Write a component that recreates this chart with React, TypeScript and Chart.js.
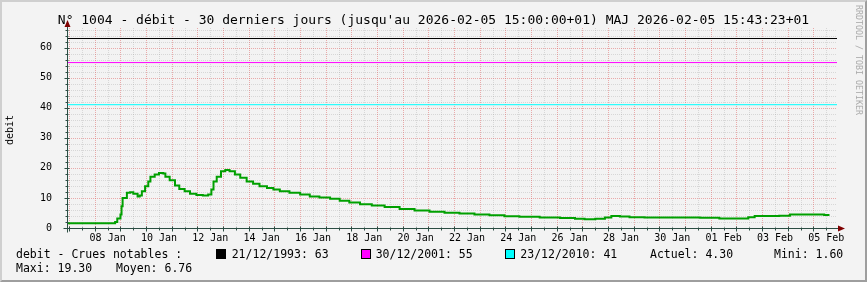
import React, { useEffect, useRef } from "react";
import { Chart, registerables } from "chart.js";

Chart.register(...registerables);

// hours since 2026-01-07 00:00 (+01)
const hours = [-2, 41, 43, 45, 48, 49, 50, 54, 57, 60, 64, 66, 68, 71, 74, 76, 80, 84, 88, 90, 94, 99, 103, 108, 113, 119, 125, 130, 133, 135, 138, 142, 146, 150, 155, 160, 166, 172, 178, 185, 191, 197, 206, 216, 225, 234, 244, 253, 262, 272, 283, 295, 309, 323, 337, 351, 365, 379, 393, 407, 421, 440, 459, 473, 482, 492, 501, 507, 515, 524, 538, 562, 590, 608, 627, 635, 641, 664, 674, 704, 706, 711];
const flow = [1.6, 1.6, 2.0, 3.2, 4.5, 7.2, 10.0, 11.7, 11.9, 11.4, 10.5, 10.8, 12.2, 13.9, 15.5, 17.0, 17.8, 18.3, 18.1, 17.0, 15.9, 14.1, 13.0, 12.2, 11.4, 11.0, 10.8, 11.1, 12.8, 15.5, 17.0, 18.9, 19.3, 18.9, 17.8, 16.7, 15.5, 14.7, 13.9, 13.3, 12.8, 12.2, 11.7, 11.1, 10.5, 10.1, 9.7, 9.1, 8.5, 7.9, 7.5, 7.0, 6.3, 5.8, 5.4, 5.1, 4.8, 4.5, 4.2, 3.9, 3.7, 3.5, 3.3, 3.1, 2.9, 3.1, 3.5, 4.0, 3.8, 3.6, 3.5, 3.5, 3.4, 3.2, 3.2, 3.6, 4.0, 4.1, 4.5, 4.5, 4.3, 4.3];

const crueDates = ["21/12/1993", "30/12/2001", "23/12/2010"];
const crueValues = [63, 55, 41];
const crueColors = ["#000000", "#ff00ff", "#00ffff"];

const xTickHours = [36, 84, 132, 180, 228, 276, 324, 372, 420, 468, 516, 564, 612, 660, 708];
const xTickLabels = ["08 Jan", "10 Jan", "12 Jan", "14 Jan", "16 Jan", "18 Jan", "20 Jan", "22 Jan", "24 Jan", "26 Jan", "28 Jan", "30 Jan", "01 Feb", "03 Feb", "05 Feb"];
const yTicks = [0, 10, 20, 30, 40, 50, 60];

const X_MIN = -2;
const X_MAX = 718;
const Y_MAX = 66.5;

const TITLE = "N° 1004 - débit - 30 derniers jours (jusqu'au 2026-02-05 15:00:00+01) MAJ 2026-02-05 15:43:23+01";
const actuel = "4.30";
const mini = "1.60";
const maxi = "19.30";
const moyen = "6.76";

const MONO = "'DejaVu Sans Mono', monospace";

const rrdPlugin = {
  id: "rrdGrid",
  beforeDatasetsDraw(chart: any) {
    const { ctx, chartArea: a, scales } = chart;
    const x = scales.x;
    const y = scales.y;
    ctx.save();
    ctx.lineWidth = 1;
    ctx.setLineDash([1, 1]);
    // minor grid
    ctx.strokeStyle = "rgba(143,143,143,0.28)";
    ctx.beginPath();
    for (let h = 12; h < X_MAX; h += 24) {
      const px = Math.round(x.getPixelForValue(h)) + 0.5;
      ctx.moveTo(px, a.top);
      ctx.lineTo(px, a.bottom);
    }
    for (let v = 2; v <= Y_MAX; v += 2) {
      if (v % 10 === 0) continue;
      const py = Math.round(y.getPixelForValue(v)) + 0.5;
      ctx.moveTo(a.left, py);
      ctx.lineTo(a.right, py);
    }
    ctx.stroke();
    // major grid
    ctx.strokeStyle = "rgba(222,81,81,0.45)";
    ctx.beginPath();
    for (let h = 0; h < X_MAX; h += 24) {
      const px = Math.round(x.getPixelForValue(h)) + 0.5;
      ctx.moveTo(px, a.top);
      ctx.lineTo(px, a.bottom);
    }
    for (let v = 10; v <= Y_MAX; v += 10) {
      const py = Math.round(y.getPixelForValue(v)) + 0.5;
      ctx.moveTo(a.left, py);
      ctx.lineTo(a.right, py);
    }
    ctx.stroke();
    ctx.restore();
  },
  afterDatasetsDraw(chart: any) {
    const { ctx, chartArea: a, scales } = chart;
    const x = scales.x;
    const y = scales.y;
    const bx = Math.round(a.left) + 0.5;
    const by = Math.round(y.getPixelForValue(0)) + 0.5;
    ctx.save();
    ctx.lineWidth = 1;
    ctx.strokeStyle = "#2c4d43";
    ctx.beginPath();
    for (let h = 0; h < X_MAX; h += 24) {
      const px = Math.round(x.getPixelForValue(h)) + 0.5;
      ctx.moveTo(px, by - 2);
      ctx.lineTo(px, by + 3);
    }
    for (let h = 12; h < X_MAX; h += 24) {
      const px = Math.round(x.getPixelForValue(h)) + 0.5;
      ctx.moveTo(px, by - 1);
      ctx.lineTo(px, by + 2);
    }
    for (let v = 10; v <= Y_MAX; v += 10) {
      const py = Math.round(y.getPixelForValue(v)) + 0.5;
      ctx.moveTo(bx - 3, py);
      ctx.lineTo(bx + 2, py);
    }
    for (let v = 2; v <= Y_MAX; v += 2) {
      if (v % 10 === 0) continue;
      const py = Math.round(y.getPixelForValue(v)) + 0.5;
      ctx.moveTo(bx - 2, py);
      ctx.lineTo(bx + 1, py);
    }
    ctx.moveTo(bx - 4, by);
    ctx.lineTo(a.right + 2, by);
    ctx.moveTo(bx, by + 4);
    ctx.lineTo(bx, a.top - 2);
    ctx.stroke();
    ctx.fillStyle = "#7f0000";
    ctx.beginPath();
    ctx.moveTo(a.right + 1, by - 3);
    ctx.lineTo(a.right + 8, by);
    ctx.lineTo(a.right + 1, by + 3);
    ctx.closePath();
    ctx.fill();
    ctx.beginPath();
    ctx.moveTo(bx - 3, a.top - 1);
    ctx.lineTo(bx, a.top - 8);
    ctx.lineTo(bx + 3, a.top - 1);
    ctx.closePath();
    ctx.fill();
    ctx.restore();
  },
};

function ChartCanvas() {
  const ref = useRef<HTMLCanvasElement | null>(null);
  useEffect(() => {
    if (!ref.current) return;
    const flowData = hours.map((h, i) => ({ x: h, y: flow[i] }));
    const crueSets = crueValues.map((v, i) => ({
      label: crueDates[i],
      data: [
        { x: X_MIN, y: v },
        { x: X_MAX, y: v },
      ],
      borderColor: crueColors[i],
      borderWidth: 1,
      pointRadius: 0,
      fill: false,
    }));
    const chart = new Chart(ref.current, {
      type: "line",
      data: {
        datasets: [
          ...crueSets,
          {
            label: "debit",
            data: flowData,
            borderColor: "#00a000",
            borderWidth: 2,
            pointRadius: 0,
            stepped: "before",
            fill: false,
            borderJoinStyle: "miter",
          },
        ],
      },
      options: {
        animation: false,
        responsive: false,
        devicePixelRatio: 1,
        layout: { padding: { left: 0, top: 28, right: 30, bottom: 0 } },
        plugins: {
          legend: { display: false },
          tooltip: { enabled: false },
          title: { display: false },
        },
        scales: {
          x: {
            type: "linear",
            min: X_MIN,
            max: X_MAX,
            grid: { display: false },
            border: { display: false },
            afterBuildTicks: (s: any) => {
              s.ticks = xTickHours.map((v) => ({ value: v }));
            },
            afterFit: (s: any) => {
              s.height = 54;
            },
            ticks: {
              autoSkip: false,
              maxRotation: 0,
              padding: -4,
              color: "#000",
              font: { family: MONO, size: 10 },
              callback: (v: any) => {
                const i = xTickHours.indexOf(Number(v));
                return i >= 0 ? xTickLabels[i] : "";
              },
            },
          },
          y: {
            type: "linear",
            min: 0,
            max: Y_MAX,
            grid: { display: false },
            border: { display: false },
            afterBuildTicks: (s: any) => {
              s.ticks = yTicks.map((v) => ({ value: v }));
            },
            afterFit: (s: any) => {
              s.width = 67;
            },
            ticks: {
              padding: 7,
              color: "#000",
              font: { family: MONO, size: 10 },
            },
          },
        },
      },
      plugins: [rrdPlugin],
    });
    return () => chart.destroy();
  }, []);
  return <canvas ref={ref} width={867} height={282} style={{ position: "absolute", left: 0, top: 0 }} />;
}

const textStyle = (left: number, top: number, size: number): React.CSSProperties => ({
  position: "absolute",
  left,
  top,
  fontFamily: MONO,
  fontSize: size,
  lineHeight: "normal",
  color: "#000",
  whiteSpace: "pre",
});

const square = (left: number, color: string): React.CSSProperties => ({
  position: "absolute",
  left,
  top: 249,
  width: 8,
  height: 8,
  background: color,
  border: "1px solid #000",
});

export default function App() {
  const LS = 11.5;
  const row1 = 257.5 - 0.928 * LS;
  const row2 = 271.7 - 0.928 * LS;
  return (
    <div
      style={{
        position: "fixed",
        left: 0,
        top: 0,
        width: 867,
        height: 282,
        background: "#f3f3f3",
        overflow: "hidden",
      }}
    >
      <ChartCanvas />
      <div style={{ ...textStyle(0, 12.4, 13), width: 867, textAlign: "center" }}>{TITLE}</div>
      <div
        style={{
          position: "absolute",
          left: 4,
          top: 145,
          transformOrigin: "0 0",
          transform: "rotate(-90deg)",
          fontFamily: MONO,
          fontSize: 10,
          lineHeight: "12px",
          whiteSpace: "pre",
          color: "#000",
        }}
      >
        debit
      </div>
      <div
        style={{
          position: "absolute",
          left: 864,
          top: 5,
          transformOrigin: "0 0",
          transform: "rotate(90deg)",
          fontFamily: MONO,
          fontSize: 8.3,
          lineHeight: "10px",
          whiteSpace: "pre",
          color: "#aaaaaa",
        }}
      >
        RRDTOOL / TOBI OETIKER
      </div>
      <div style={textStyle(16, row1, LS)}>debit - Crues notables :</div>
      <div style={square(216, crueColors[0])} />
      <div style={textStyle(231.7, row1, LS)}>{`${crueDates[0]}: ${crueValues[0]}`}</div>
      <div style={square(360.7, crueColors[1])} />
      <div style={textStyle(375.7, row1, LS)}>{`${crueDates[1]}: ${crueValues[1]}`}</div>
      <div style={square(505.3, crueColors[2])} />
      <div style={textStyle(520.3, row1, LS)}>{`${crueDates[2]}: ${crueValues[2]}`}</div>
      <div style={textStyle(650, row1, LS)}>{`Actuel: ${actuel}`}</div>
      <div style={textStyle(774, row1, LS)}>{`Mini: ${mini}`}</div>
      <div style={textStyle(16, row2, LS)}>{`Maxi: ${maxi}`}</div>
      <div style={textStyle(116, row2, LS)}>{`Moyen: ${moyen}`}</div>
      <div
        style={{
          position: "absolute",
          left: 0,
          top: 0,
          width: 867,
          height: 282,
          boxSizing: "border-box",
          borderTop: "2px solid #cfcfcf",
          borderLeft: "2px solid #cfcfcf",
          borderRight: "2px solid #9e9e9e",
          borderBottom: "2px solid #9e9e9e",
          pointerEvents: "none",
        }}
      />
    </div>
  );
}
